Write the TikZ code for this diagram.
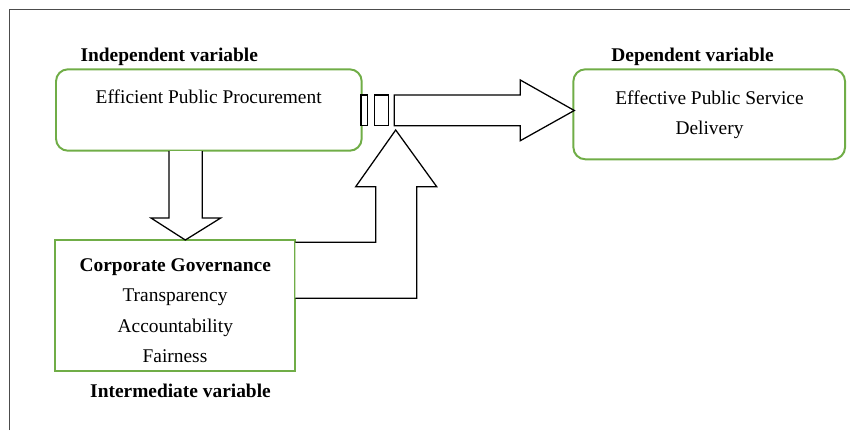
\documentclass[tikz,border=0pt]{standalone}
\usepackage{fontspec}
\setmainfont{Liberation Serif}
\definecolor{boxgreen}{RGB}{112,173,71}
\tikzset{
    varbox/.style={draw=boxgreen, line width=1.4pt, inner sep=0pt},
    blockarrow/.style={draw=black, line width=0.9pt, fill=white, line join=miter},
    varlabel/.style={anchor=base, font=\bfseries\fontsize{13.8}{16}\selectfont},
    boxtext/.style={anchor=base, font=\fontsize{13.8}{16}\selectfont},
}
\begin{document}
\begin{tikzpicture}[x=0.025cm, y=-0.025cm]
        \useasboundingbox (0,0) rectangle (850,430);
        \draw[gray!60!black, line width=0.7pt] (9.3,430) -- (9.3,9.3) -- (850,9.3);
        % variable boxes
        \node[varbox, rounded corners=0.3cm, minimum width=7.64cm, minimum height=2.035cm] (procure) at (208.85,110) {};
        \node[varbox, rounded corners=0.3cm, minimum width=6.79cm, minimum height=2.25cm] (service) at (709.2,114.3) {};
        \node[varbox, minimum width=6cm, minimum height=3.27cm] (govern) at (175.3,305.3) {};
        % labels
        \node[varlabel] (indep) at (169.3,61) {Independent variable};
        \node[varlabel] (dep) at (692.5,61) {Dependent variable};
        \node[varlabel] (inter) at (180.5,397.7) {Intermediate variable};
        \node[boxtext] (procuretext) at (208.7,103.3) {Efficient Public Procurement};
        \node[boxtext] (servicetext1) at (709.5,104.3) {Effective Public Service};
        \node[boxtext] (servicetext2) at (709.5,134.3) {Delivery};
        \node[varlabel] (governtext) at (175.3,271) {Corporate Governance};
        \node[boxtext] (transp) at (175,301.7) {Transparency};
        \node[boxtext] (account) at (175.3,332.3) {Accountability};
        \node[boxtext] (fair) at (175,362.7) {Fairness};
        % block arrows
        \draw[blockarrow] (169,151) -- (169,218) -- (151,218) -- (185.3,240) -- (220.7,218) -- (202.3,218) -- (202.3,151);
        \draw[blockarrow] (361,95) rectangle (367.3,125.7);
        \draw[blockarrow] (374.3,95) rectangle (388.3,125.7);
        \draw[blockarrow] (394.3,95) -- (520.3,95) -- (520.3,80) -- (574.3,110.5) -- (520.3,140.7) -- (520.3,125.7) -- (394.3,125.7) -- cycle;
        \draw[blockarrow] (295.3,242.3) -- (375.7,242.3) -- (375.7,186.7) -- (355.7,186.7) -- (395.7,130) -- (436.7,186.7) -- (416.7,186.7) -- (416.7,298.3) -- (295.3,298.3);
    \end{tikzpicture}
\end{document}
